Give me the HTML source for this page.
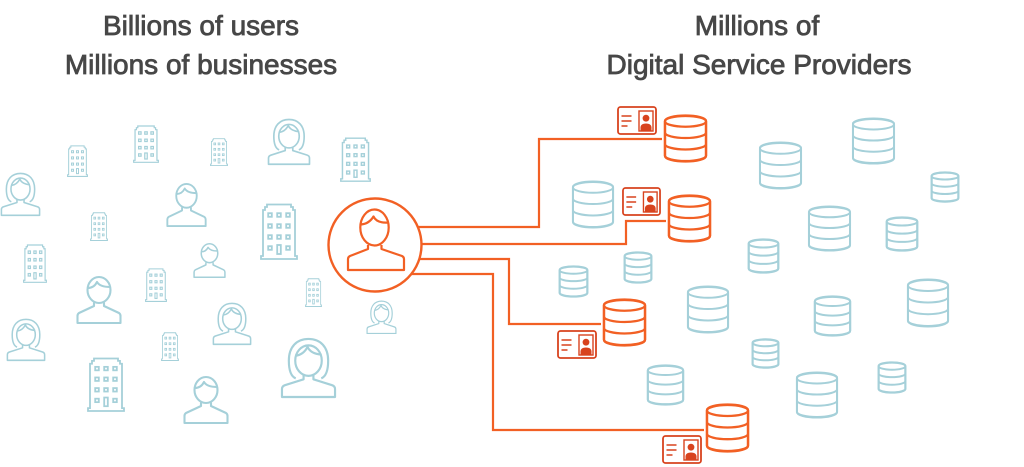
<!DOCTYPE html>
<html>
<head>
<meta charset="utf-8">
<style>
html,body{margin:0;padding:0;background:#fff;}
svg{display:block;}
</style>
</head>
<body>
<svg width="1024" height="467" viewBox="0 0 1024 467" xmlns="http://www.w3.org/2000/svg">
<defs>
  <symbol id="db" viewBox="0 0 44 48" preserveAspectRatio="none" overflow="visible">
    <path vector-effect="non-scaling-stroke" fill="#fff" d="M1,6 A21,5.5 0 0 1 43,6 V42 A21,5.5 0 0 1 1,42 Z"/>
    <path vector-effect="non-scaling-stroke" fill="none" d="M1,6.5 A21,5.5 0 0 1 43,6.5 A21,5.5 0 0 1 1,6.5 Z M1,6.5 V41.5 A21,5.5 0 0 0 43,41.5 V6.5 M1,18 A21,5.5 0 0 0 43,18 M1,29.7 A21,5.5 0 0 0 43,29.7"/>
  </symbol>
  <symbol id="man" viewBox="0 0 46 48" preserveAspectRatio="none" overflow="visible">
    <g fill="none" stroke-width="2.1" stroke-linejoin="round">
      <ellipse cx="23" cy="14" rx="11.5" ry="13"/>
      <path d="M11.8,12 Q18,12 21,6 Q24,11 34.2,11"/>
      <path d="M18,26.5 V30 L3,37 Q1.5,38 1.5,40 V47 H44.5 V40 Q44.5,38 43,37 L28,30 V26.5"/>
    </g>
  </symbol>
  <symbol id="woman" viewBox="0 0 58 62" preserveAspectRatio="none" overflow="visible">
    <g fill="none" stroke-width="2.2" stroke-linejoin="round">
      <path d="M16,42 C11,40 9,34 9,24 C9,10 17,2 29,2 C41,2 49,10 49,24 C49,34 47,40 42,42"/>
      <ellipse cx="29" cy="24" rx="13.5" ry="15.5"/>
      <path d="M15.8,19 Q24,18 28,10 Q31,17 42.3,18"/>
      <path d="M24,39 V43 L5,49 Q2,50 2,53 V61 H56 V53 Q56,50 53,49 L34,43 V39"/>
    </g>
  </symbol>
  <symbol id="bld" viewBox="0 0 38 57" preserveAspectRatio="none" overflow="visible">
    <g fill="none" stroke-width="1.8">
      <path d="M1,56 V53 H3 V7 H5 V4 H7 V1.5 H31 V4 H33 V7 H35 V53 H37 V56 Z"/>
      <rect x="8.2" y="10.2" width="3.6" height="3.6"/>
      <rect x="17.2" y="10.2" width="3.6" height="3.6"/>
      <rect x="26.2" y="10.2" width="3.6" height="3.6"/>
      <rect x="8.2" y="21.2" width="3.6" height="3.6"/>
      <rect x="17.2" y="21.2" width="3.6" height="3.6"/>
      <rect x="26.2" y="21.2" width="3.6" height="3.6"/>
      <rect x="8.2" y="32.2" width="3.6" height="3.6"/>
      <rect x="17.2" y="32.2" width="3.6" height="3.6"/>
      <rect x="26.2" y="32.2" width="3.6" height="3.6"/>
      <rect x="8.2" y="43.2" width="3.6" height="3.6"/>
      <rect x="17.2" y="42" width="3.6" height="9"/>
      <rect x="26.2" y="43.2" width="3.6" height="3.6"/>
    </g>
  </symbol>
  <symbol id="card" viewBox="0 0 40 29" preserveAspectRatio="none" overflow="visible">
    <rect x="1" y="1" width="38" height="27" rx="2.5" fill="#fff" stroke="#d8431e" stroke-width="1.8"/>
    <path d="M4.5,10 H14.5 M4.5,15 H14.5 M4.5,20 H10.5" stroke="#d8431e" stroke-width="1.6" fill="none"/>
    <rect x="22" y="5" width="14" height="20" fill="#fff" stroke="#d8431e" stroke-width="1.4"/>
    <circle cx="29" cy="12.2" r="3.4" fill="#d8431e"/>
    <path d="M23.5,24.5 V21 Q24,17.5 29,17.5 Q34,17.5 34.5,21 V24.5 Z" fill="#d8431e"/>
  </symbol>
</defs>

<!-- Titles -->
<g font-family="'Liberation Sans', 'DejaVu Sans', sans-serif" font-size="28" fill="#474747" stroke="#474747" stroke-width="0.8" text-anchor="middle">
  <text x="201" y="35">Billions of users</text>
  <text x="201" y="74">Millions of businesses</text>
  <text x="757" y="35">Millions of</text>
  <text x="759" y="74">Digital Service Providers</text>
</g>

<!-- Left side people & buildings -->
<g stroke="#a5d0d9">
  <use href="#woman" x="267" y="118" width="44" height="47"/>
  <use href="#woman" x="0" y="172" width="41" height="44"/>
  <use href="#woman" x="6" y="318" width="40" height="43"/>
  <use href="#woman" x="212" y="302" width="40" height="43"/>
  <use href="#woman" x="366" y="300" width="31" height="34"/>
  <use href="#woman" x="280" y="337" width="57" height="61"/>

  <use href="#man" x="166" y="183" width="41" height="44"/>
  <use href="#man" x="193" y="243" width="33" height="35"/>
  <use href="#man" x="76" y="276" width="46" height="48"/>
  <use href="#man" x="183" y="376" width="46" height="48"/>

  <use href="#bld" x="67" y="145" width="21" height="32"/>
  <use href="#bld" x="133" y="125" width="26" height="38"/>
  <use href="#bld" x="210" y="138" width="18" height="28"/>
  <use href="#bld" x="90" y="212" width="18" height="29"/>
  <use href="#bld" x="260" y="203" width="38" height="57"/>
  <use href="#bld" x="23" y="244" width="24" height="39"/>
  <use href="#bld" x="145" y="268" width="22" height="34"/>
  <use href="#bld" x="305" y="278" width="17" height="29"/>
  <use href="#bld" x="161" y="332" width="18" height="29"/>
  <use href="#bld" x="87" y="357" width="38" height="55"/>
  <use href="#bld" x="340" y="137" width="31" height="45"/>
</g>

<!-- Blue databases -->
<g stroke="#a5d0d9" stroke-width="2">
  <use href="#db" x="572" y="181" width="42" height="47"/>
  <use href="#db" x="759" y="142" width="43" height="47"/>
  <use href="#db" x="852" y="118" width="43" height="46"/>
  <use href="#db" x="931" y="172" width="28" height="30"/>
  <use href="#db" x="808" y="206" width="43" height="45"/>
  <use href="#db" x="886" y="217" width="32" height="34"/>
  <use href="#db" x="748" y="239" width="31" height="34"/>
  <use href="#db" x="624" y="252" width="28" height="31"/>
  <use href="#db" x="559" y="266" width="29" height="31"/>
  <use href="#db" x="687" y="286" width="42" height="47"/>
  <use href="#db" x="814" y="296" width="37" height="40"/>
  <use href="#db" x="907" y="279" width="42" height="48"/>
  <use href="#db" x="752" y="339" width="27" height="29"/>
  <use href="#db" x="647" y="365" width="37" height="40"/>
  <use href="#db" x="796" y="372" width="42" height="46"/>
  <use href="#db" x="878" y="362" width="28" height="31"/>
</g>

<!-- Orange connector lines -->
<g fill="none" stroke="#f26024" stroke-width="2.2">
  <path d="M400,227 H539 V139 H662"/>
  <path d="M400,244 H626 V221 H666"/>
  <path d="M400,259 H509 V324 H601"/>
  <path d="M400,274 H493 V430 H704"/>
</g>

<!-- Central user -->
<circle cx="375" cy="245" r="46.5" fill="#fff" stroke="#f26024" stroke-width="2.4"/>
<g fill="none" stroke="#f26024" stroke-width="2.2" stroke-linejoin="round">
  <ellipse cx="374.5" cy="227.5" rx="14.2" ry="18"/>
  <path d="M360.5,224.5 Q369,224 373.5,216.5 Q377,223.5 388.5,222.5"/>
  <path d="M368,245 V249 L350,256 Q348,257 348,259 V270 H404 V259 Q404,257 402,256 L381.5,249 V245"/>
</g>

<!-- Orange databases -->
<g stroke="#f26024" stroke-width="2.3">
  <use href="#db" x="664" y="115" width="43" height="47"/>
  <use href="#db" x="668" y="195" width="43" height="47"/>
  <use href="#db" x="603" y="299" width="43" height="47"/>
  <use href="#db" x="706" y="404" width="43" height="48"/>
</g>

<!-- ID cards -->
<use href="#card" x="617" y="106" width="40" height="29"/>
<use href="#card" x="622" y="187" width="39" height="29"/>
<use href="#card" x="557" y="330" width="40" height="29"/>
<use href="#card" x="662" y="435" width="40" height="29"/>
</svg>
</body>
</html>
